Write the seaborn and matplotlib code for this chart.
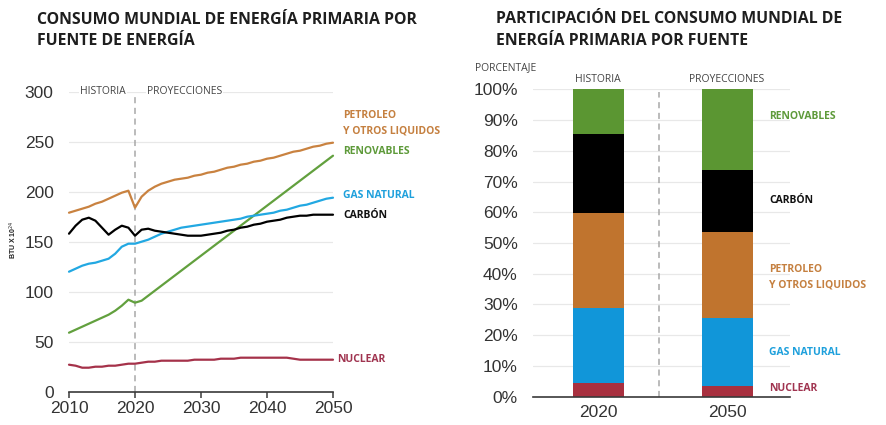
"""
Consumo mundial de energía primaria: líneas por fuente + participación 2020/2050.
"""
import matplotlib
matplotlib.use("Agg")
import matplotlib.pyplot as plt
import numpy as np
import pandas as pd
import seaborn as sns

YEARS = list(range(2010, 2051))

PETROLEO = [179, 181, 183, 185, 188, 190, 193, 196, 199, 201,
            184, 195, 201, 205, 208, 210, 212, 213, 214, 216,
            217, 219, 220, 222, 224, 225, 227, 228, 230, 231,
            233, 234, 236, 238, 240, 241, 243, 245, 246, 248, 249]
RENOVABLES = [59, 62, 65, 68, 71, 74, 77, 81, 86, 92,
              89, 91, 96, 101, 106, 111, 116, 121, 126, 131,
              136, 141, 146, 151, 156, 161, 166, 171, 176, 181,
              186, 191, 196, 201, 206, 211, 216, 221, 226, 231, 236]
GAS = [120, 123, 126, 128, 129, 131, 133, 138, 145, 148,
       148, 150, 152, 155, 158, 160, 162, 164, 165, 166,
       167, 168, 169, 170, 171, 172, 173, 175, 176, 177,
       178, 179, 181, 182, 184, 186, 187, 189, 191, 193, 194]
CARBON = [158, 166, 172, 174, 171, 164, 157, 162, 166, 164,
          156, 162, 163, 161, 160, 159, 158, 157, 156, 156,
          156, 157, 158, 159, 161, 162, 164, 165, 167, 168,
          170, 171, 172, 174, 175, 176, 176, 177, 177, 177, 177]
NUCLEAR = [27, 26, 24, 24, 25, 25, 26, 26, 27, 28,
           28, 29, 30, 30, 31, 31, 31, 31, 31, 32,
           32, 32, 32, 33, 33, 33, 34, 34, 34, 34,
           34, 34, 34, 34, 33, 32, 32, 32, 32, 32, 32]

BAR_YEARS = ["2020", "2050"]
# participación (%) de abajo hacia arriba
SHARE_NUCLEAR = [4.4, 3.4]
SHARE_GAS = [24.6, 22.2]
SHARE_PETROLEO = [30.7, 27.9]
SHARE_CARBON = [25.8, 20.3]
SHARE_RENOVABLES = [14.5, 26.2]

LINE_COLORS = {"PETROLEO": "#c98240", "RENOVABLES": "#62a03e", "GAS": "#22a8e2",
               "CARBON": "#000000", "NUCLEAR": "#a5324a"}
BAR_COLORS = {"NUCLEAR": "#a8303f", "GAS": "#1196d9", "PETROLEO": "#c0742e",
              "CARBON": "#000000", "RENOVABLES": "#5b9632"}
LABEL_COLORS = {"PETROLEO": "#c58040", "RENOVABLES": "#5e9a3a", "GAS": "#1ea0dc",
                "CARBON": "#111111", "NUCLEAR": "#a03450"}

sns.set_theme(style="white")
plt.rcParams["font.family"] = ["Liberation Sans", "DejaVu Sans"]
TITLE_FONT = ["Open Sans", "DejaVu Sans"]

fig = plt.figure(figsize=(8.86, 4.25), dpi=100)

# ---------------- líneas ----------------
ax1 = fig.add_axes([69 / 886, 1 - 391.7 / 425, 264 / 886, 300 / 425])
long = pd.DataFrame({
    "year": YEARS * 5,
    "value": PETROLEO + RENOVABLES + GAS + CARBON + NUCLEAR,
    "fuente": (["PETROLEO"] * len(YEARS) + ["RENOVABLES"] * len(YEARS) + ["GAS"] * len(YEARS)
               + ["CARBON"] * len(YEARS) + ["NUCLEAR"] * len(YEARS)),
})
sns.lineplot(data=long, x="year", y="value", hue="fuente", palette=LINE_COLORS,
             linewidth=1.6, legend=False, ax=ax1, clip_on=False)
ax1.set_xlim(2010, 2050)
ax1.set_ylim(0, 300)
ax1.set_xticks([2010, 2020, 2030, 2040, 2050])
ax1.set_yticks([0, 50, 100, 150, 200, 250, 300])
for v in [50, 100, 150, 200, 250, 300]:
    ax1.axhline(v, color="#e8e8e8", linewidth=0.9, zorder=0)
ax1.axvline(2020, ymax=0.99, color="#a8a8a8", linestyle=(0, (4, 3)), linewidth=1.1, zorder=1)
for s in ["top", "right", "left"]:
    ax1.spines[s].set_visible(False)
ax1.spines["bottom"].set_color("#3a3a3a")
ax1.spines["bottom"].set_linewidth(1.2)
ax1.tick_params(axis="x", bottom=True, length=4, width=1.1, color="#3a3a3a",
                labelsize=12.5, labelcolor="#333333", pad=3)
ax1.tick_params(axis="y", left=False, length=0, labelsize=12.5, labelcolor="#333333", pad=11)
ax1.set_xlabel("")
ax1.set_ylabel("")

small = dict(fontsize=7.5, fontweight="bold", family=TITLE_FONT, va="center", clip_on=False)
ax1.text(2011.7, 300, "HISTORIA", color="#444444", fontsize=7.5, family=TITLE_FONT,
         va="center", bbox=dict(facecolor="white", edgecolor="none", pad=1))
ax1.text(2021.8, 300, "PROYECCIONES", color="#444444", fontsize=7.5, family=TITLE_FONT,
         va="center", bbox=dict(facecolor="white", edgecolor="none", pad=1))
ax1.text(2051.5, 276.7, "PETROLEO", color=LABEL_COLORS["PETROLEO"], **small)
ax1.text(2051.5, 260.7, "Y OTROS LIQUIDOS", color=LABEL_COLORS["PETROLEO"], **small)
ax1.text(2051.5, 239.7, "RENOVABLES", color=LABEL_COLORS["RENOVABLES"], **small)
ax1.text(2051.5, 195.7, "GAS NATURAL", color=LABEL_COLORS["GAS"], **small)
ax1.text(2051.5, 175.7, "CARBÓN", color=LABEL_COLORS["CARBON"], **small)
ax1.text(2050.6, 32.7, "NUCLEAR", color=LABEL_COLORS["NUCLEAR"], **small)

fig.text(13 / 886, 1 - 240 / 425, "BTU X 10$^{24}$", rotation=90, fontsize=5,
         fontweight="bold", color="#222222", ha="center", va="center")

# ---------------- barras apiladas ----------------
ax2 = fig.add_axes([533 / 886, 1 - 396.7 / 425, 257 / 886, 307.4 / 425])
stack = [("NUCLEAR", SHARE_NUCLEAR), ("GAS", SHARE_GAS), ("PETROLEO", SHARE_PETROLEO),
         ("CARBON", SHARE_CARBON), ("RENOVABLES", SHARE_RENOVABLES)]
tops = np.cumsum([vals for _, vals in stack], axis=0)
# dibujar del más alto al más bajo para que cada capa tape la anterior
for (name, _), top in reversed(list(zip(stack, tops))):
    sns.barplot(x=BAR_YEARS, y=top, color=BAR_COLORS[name], saturation=1,
                width=0.395, edgecolor="none", linewidth=0, ax=ax2, zorder=2)
ax2.set_xlim(-0.504, 1.488)
ax2.set_ylim(0, 100)
ax2.set_yticks(range(0, 101, 10))
ax2.set_yticklabels([f"{v}%" for v in range(0, 101, 10)])
for v in range(10, 101, 10):
    ax2.axhline(v, color="#e8e8e8", linewidth=0.9, zorder=0)
ax2.axvline(0.47, ymax=0.99, color="#a8a8a8", linestyle=(0, (4, 3)), linewidth=1.1, zorder=1)
for s in ["top", "right", "left"]:
    ax2.spines[s].set_visible(False)
ax2.spines["bottom"].set_color("#3a3a3a")
ax2.spines["bottom"].set_linewidth(1.2)
ax2.tick_params(axis="x", bottom=False, length=0, labelsize=12.5, labelcolor="#333333", pad=6)
ax2.tick_params(axis="y", left=False, length=0, labelsize=12.5, labelcolor="#333333", pad=11)
ax2.set_xlabel("")
ax2.set_ylabel("")

ax2.text(0, 103.3, "HISTORIA", color="#444444", fontsize=7.5, family=TITLE_FONT,
         ha="center", va="center", clip_on=False)
ax2.text(1, 103.3, "PROYECCIONES", color="#444444", fontsize=7.5, family=TITLE_FONT,
         ha="center", va="center", clip_on=False)
ax2.text(-0.72, 106.9, "PORCENTAJE", color="#444444", fontsize=7.5, family=TITLE_FONT,
         ha="center", va="center", clip_on=False)
ax2.text(1.326, 91, "RENOVABLES", color=LABEL_COLORS["RENOVABLES"], **small)
ax2.text(1.326, 63.7, "CARBÓN", color=LABEL_COLORS["CARBON"], **small)
ax2.text(1.326, 41.5, "PETROLEO", color=LABEL_COLORS["PETROLEO"], **small)
ax2.text(1.326, 36.3, "Y OTROS LIQUIDOS", color=LABEL_COLORS["PETROLEO"], **small)
ax2.text(1.326, 14.5, "GAS NATURAL", color=LABEL_COLORS["GAS"], **small)
ax2.text(1.326, 2.8, "NUCLEAR", color=LABEL_COLORS["NUCLEAR"], **small)

# ---------------- títulos ----------------
title = dict(fontsize=11.4, fontweight="bold", family=TITLE_FONT, color="#1e1e1e", va="center")
fig.text(37 / 886, 1 - 20 / 425, "CONSUMO MUNDIAL DE ENERGÍA PRIMARIA POR", **title)
fig.text(37 / 886, 1 - 41 / 425, "FUENTE DE ENERGÍA", **title)
fig.text(496 / 886, 1 - 19 / 425, "PARTICIPACIÓN DEL CONSUMO MUNDIAL DE", **title)
fig.text(496 / 886, 1 - 41 / 425, "ENERGÍA PRIMARIA POR FUENTE", **title)

fig.savefig("out.png", dpi=100)
